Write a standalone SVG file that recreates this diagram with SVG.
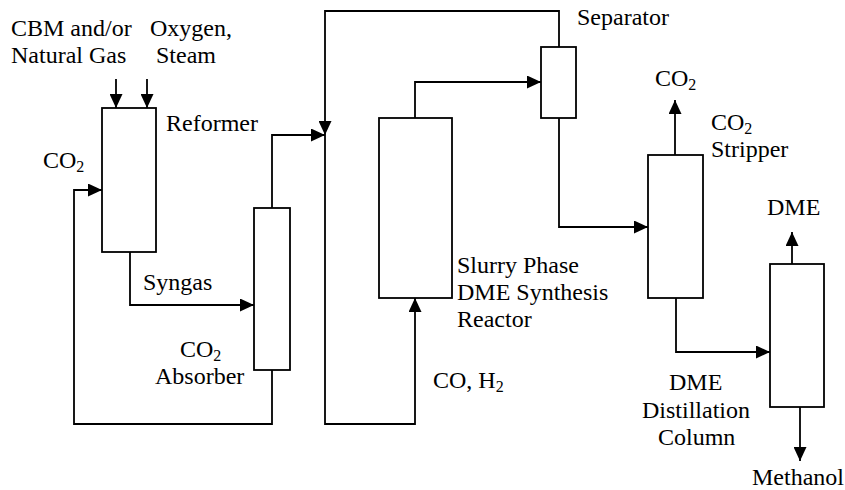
<svg xmlns="http://www.w3.org/2000/svg" width="845" height="490" viewBox="0 0 845 490">
<defs>
<marker id="ah" markerUnits="userSpaceOnUse" markerWidth="15" markerHeight="13" refX="14" refY="6.5" orient="auto">
<path d="M0,0 L14,6.5 L0,13 z" fill="#000"/>
</marker>
</defs>
<style>
text{font-family:'Liberation Serif','Times New Roman',serif;font-size:24px;fill:#000}
.sub{font-size:16px}
.box{fill:#fff;stroke:#000;stroke-width:1.8}
.ar{fill:none;stroke:#000;stroke-width:1.8;marker-end:url(#ah)}
</style>
<rect width="845" height="490" fill="#fff"/>
<g id="connectors">
<path class="ar" d="M116,79 V108"/>
<path class="ar" d="M147,79 V108"/>
<path class="ar" d="M272,370 V424 H74 V190 H102"/>
<path class="ar" d="M130,252 V305 H254"/>
<path class="ar" d="M272,208 V135 H325"/>
<path class="ar" d="M559,47 V11 H325 V135"/>
<path class="ar" d="M325,135 V424 H415 V298"/>
<path class="ar" d="M415,118 V82 H541"/>
<path class="ar" d="M559,118 V227 H648"/>
<path class="ar" d="M675,155 V100"/>
<path class="ar" d="M676,298 V352 H770"/>
<path class="ar" d="M792,264 V232"/>
<path class="ar" d="M800,407 V461"/>
</g>
<g id="reformer">
<rect class="box" x="102" y="108" width="54" height="144"/>
<text x="166" y="131">Reformer</text>
</g>
<g id="absorber">
<rect class="box" x="254" y="208" width="36" height="162"/>
<text x="180" y="357">CO<tspan class="sub" dy="4">2</tspan></text>
<text x="155" y="384">Absorber</text>
</g>
<g id="reactor">
<rect class="box" x="379" y="118" width="73" height="180"/>
<text x="457" y="273">Slurry Phase</text>
<text x="457" y="300">DME Synthesis</text>
<text x="457" y="327">Reactor</text>
</g>
<g id="separator">
<rect class="box" x="541" y="47" width="35" height="71"/>
<text x="577" y="25">Separator</text>
</g>
<g id="stripper">
<rect class="box" x="648" y="155" width="55" height="143"/>
<text x="711" y="130">CO<tspan class="sub" dy="4">2</tspan></text>
<text x="711" y="157">Stripper</text>
</g>
<g id="column">
<rect class="box" x="770" y="264" width="54" height="143"/>
<text x="669" y="390">DME</text>
<text x="642" y="418">Distillation</text>
<text x="658" y="445">Column</text>
</g>
<g id="labels">
<text x="11" y="36">CBM and/or</text>
<text x="11" y="63">Natural Gas</text>
<text x="150" y="36">Oxygen,</text>
<text x="156" y="63">Steam</text>
<text x="43" y="168">CO<tspan class="sub" dy="4">2</tspan></text>
<text x="143" y="290">Syngas</text>
<text x="433" y="388">CO, H<tspan class="sub" dy="4">2</tspan></text>
<text x="655" y="86">CO<tspan class="sub" dy="4">2</tspan></text>
<text x="767" y="215">DME</text>
<text x="752" y="485">Methanol</text>
</g>
</svg>
